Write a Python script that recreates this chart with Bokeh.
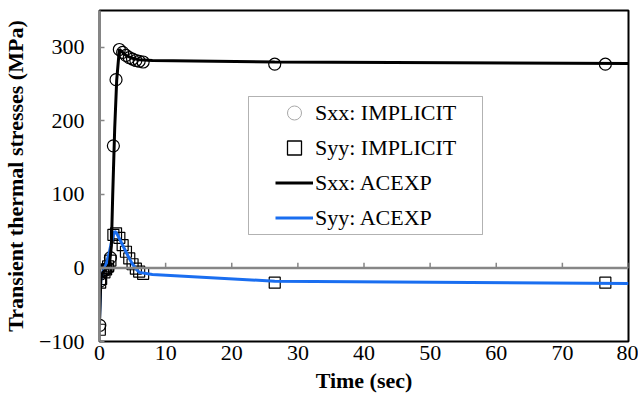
from bokeh.plotting import figure
from bokeh.models import Range1d, FixedTicker, Span, Legend, LegendItem, BoxAnnotation
from bokeh.embed import file_html
from bokeh.resources import INLINE

# IMPLICIT solution (markers)
imp_t = [0.05, 0.1, 0.25, 0.5, 0.75, 1.0, 1.3, 1.65, 2.1, 2.5, 3.0, 3.5, 4.0, 4.5, 5.0, 5.5, 6.0, 6.6, 26.5, 76.5]
sxx_imp = [-78, -18, -8, -5, -3, -2, 0, 14, 166, 256, 297, 293, 289, 286, 284, 282, 281, 280, 277, 277]
syy_imp = [-84, -20, -15, -3, -6, -2, 2, 10, 45, 47, 41, 31, 22, 13, 5, -1, -5, -8, -20, -20]

# ACEXP solution (lines)
acexp_t = [0, 0.2, 0.5, 1.0, 1.5, 1.8, 2.0, 2.3, 2.6, 3.0, 3.5, 4.0, 4.5, 5.0, 5.5, 6.0, 8.0, 26.5, 80]
sxx_acexp = [-76, -15, -6, -2, 5, 30, 100, 190, 255, 297, 293, 289, 287, 285, 284, 283, 282, 280, 278]
syy_acexp = [-70, -14, -6, 5, 22, 35, 42, 50, 47, 40, 31, 22, 13, 5, -1, -6, -9, -18, -21]

x_ticks = [0, 10, 20, 30, 40, 50, 60, 70, 80]
y_ticks = [-100, 0, 100, 200, 300]

SERIF = "'Liberation Serif', 'Times New Roman', serif"
GRAY = "#868686"
BLUE = "#1a6ef0"
NAN = float("nan")

p = figure(width=638, height=403, x_range=Range1d(0, 80), y_range=Range1d(-100, 350),
           output_backend="svg", toolbar_location=None,
           min_border_left=96, min_border_right=10, min_border_top=10, min_border_bottom=62)
p.outline_line_color = "black"
p.outline_line_width = 2
p.xgrid.visible = False
p.ygrid.visible = False

xa = p.xaxis[0]
xa.ticker = FixedTicker(ticks=x_ticks)
xa.axis_line_color = None
xa.major_tick_in = 0
xa.major_tick_out = 0
xa.minor_tick_line_color = None
xa.major_label_text_font = SERIF
xa.major_label_text_font_size = "22px"
xa.major_label_text_color = "black"
xa.major_label_standoff = 4
xa.axis_label = "Time (sec)"
xa.axis_label_text_font = SERIF
xa.axis_label_text_font_style = "bold"
xa.axis_label_text_font_size = "22px"
xa.axis_label_text_color = "black"
xa.axis_label_standoff = 5

ya = p.yaxis[0]
ya.ticker = FixedTicker(ticks=y_ticks)
ya.axis_line_color = GRAY
ya.axis_line_width = 2.5
ya.major_tick_in = 5
ya.major_tick_out = 0
ya.major_tick_line_color = GRAY
ya.major_tick_line_width = 1.5
ya.minor_tick_line_color = None
ya.major_label_text_font = SERIF
ya.major_label_text_font_size = "22px"
ya.major_label_text_color = "black"
ya.major_label_standoff = 15
ya.axis_label = "Transient thermal stresses (MPa)"
ya.axis_label_text_font = SERIF
ya.axis_label_text_font_style = "bold"
ya.axis_label_text_font_size = "22px"
ya.axis_label_text_color = "black"
ya.axis_label_standoff = 8

# horizontal axis line at zero with upward ticks
p.add_layout(Span(location=0, dimension="width", line_color=GRAY, line_width=2.5))
p.segment(x0=x_ticks, y0=0, x1=x_ticks, y1=7, line_color=GRAY, line_width=1.5)

r_circ = p.scatter(imp_t, sxx_imp, marker="circle", size=12, line_color="black",
                   fill_color=None, line_width=1.2)
r_sq = p.scatter(imp_t, syy_imp, marker="square", size=11, line_color="black",
                 fill_color=None, line_width=1.2)
r_blue = p.line(acexp_t, syy_acexp, line_color=BLUE, line_width=3)
r_black = p.line(acexp_t, sxx_acexp, line_color="black", line_width=3)

# legend swatches (not drawn in the plot area)
leg_circ = p.scatter([NAN], [NAN], marker="circle", size=10, line_color="#a8a8a8",
                     fill_color=None, line_width=1)
leg_sq = p.scatter([NAN], [NAN], marker="square", size=9, line_color="black",
                   fill_color=None, line_width=1.3)

p.add_layout(BoxAnnotation(left=149, right=383, bottom=107, top=245,
                           left_units="screen", right_units="screen",
                           bottom_units="screen", top_units="screen",
                           fill_color="white", fill_alpha=1, line_color="black", line_width=1))

legend = Legend(items=[
    LegendItem(label="Sxx: IMPLICIT", renderers=[leg_circ]),
    LegendItem(label="Syy: IMPLICIT", renderers=[leg_sq]),
    LegendItem(label="Sxx: ACEXP", renderers=[r_black]),
    LegendItem(label="Syy: ACEXP", renderers=[r_blue]),
], location=(176, 106))
legend.padding = 0
legend.margin = 0
legend.spacing = 0
legend.glyph_width = 38
legend.glyph_height = 35
legend.label_height = 35
legend.label_standoff = 2
legend.border_line_color = None
legend.background_fill_alpha = 0
legend.label_text_font = SERIF
legend.label_text_font_size = "22px"
legend.label_text_color = "black"
p.add_layout(legend, "center")

open("out.html", "w").write(file_html(p, INLINE))
